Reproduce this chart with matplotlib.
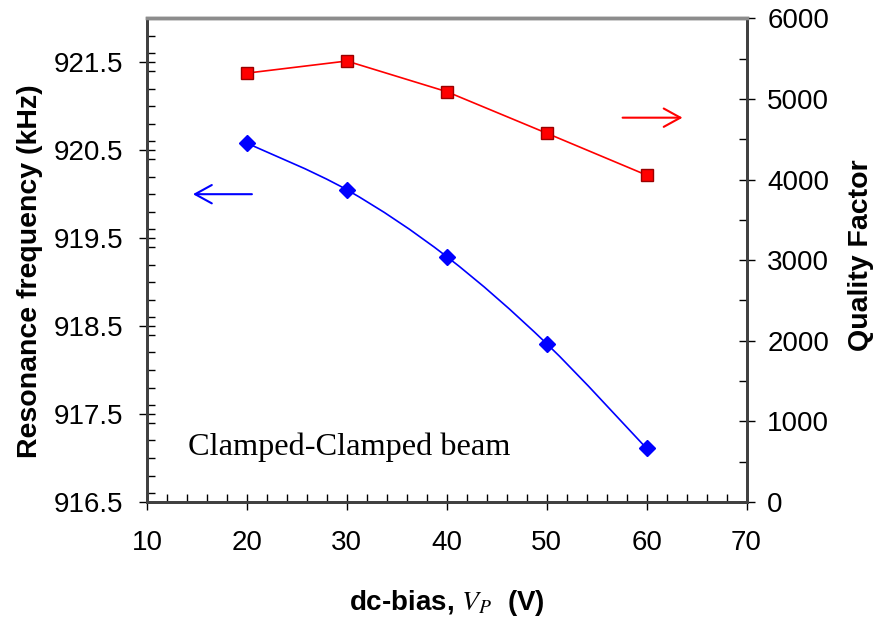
import numpy as np
import matplotlib
matplotlib.use("Agg")
import matplotlib.pyplot as plt
from matplotlib.ticker import MultipleLocator
from matplotlib.path import Path
from matplotlib.patches import PathPatch

plt.rcParams['font.family'] = 'Liberation Sans'
plt.rcParams['mathtext.fontset'] = 'stix'

# data
bias = [20, 30, 40, 50, 60]
freq = [920.58, 920.05, 919.29, 918.30, 917.11]   # kHz
qfac = [5320, 5470, 5090, 4575, 4055]


def smooth_path(xs, ys):
    """Excel-like smoothed line: cubic Bezier segments through the points."""
    pts = np.column_stack([xs, ys]).astype(float)
    n = len(pts)
    verts = [pts[0]]
    codes = [Path.MOVETO]
    for i in range(n - 1):
        p0 = pts[i - 1] if i > 0 else pts[i]
        p1, p2 = pts[i], pts[i + 1]
        p3 = pts[i + 2] if i + 2 < n else pts[i + 1]
        verts += [p1 + (p2 - p0) / 6, p2 - (p3 - p1) / 6, p2]
        codes += [Path.CURVE4] * 3
    return Path(verts, codes)


fig = plt.figure(figsize=(8.77, 6.23), dpi=100)
ax = fig.add_axes([147 / 877, 1 - 502 / 623, 599.5 / 877, 483.7 / 623])
ax2 = ax.twinx()

# frequency (left axis)
ax.add_patch(PathPatch(smooth_path(bias, freq), facecolor='none',
                       edgecolor='#0000ff', lw=1.2, zorder=3))
ax.plot(bias, freq, linestyle='none', marker='D', ms=8,
        color='#0000ff', zorder=4)

# quality factor (right axis)
ax2.plot(bias, qfac, color='#ff0000', lw=1.2, marker='s', ms=9,
         markerfacecolor='#ff0000', markeredgecolor='#990000', mew=1)

ax.set_xlim(10, 70)
ax.set_ylim(916.5, 922)
ax2.set_ylim(0, 6000)

ax.xaxis.set_major_locator(MultipleLocator(10))
ax.xaxis.set_minor_locator(MultipleLocator(2))
ax.yaxis.set_minor_locator(MultipleLocator(0.2))
ax.set_yticks([916.5, 917.5, 918.5, 919.5, 920.5, 921.5])
ax.set_yticklabels(['916.5', '917.5', '918.5', '919.5', '920.5', '921.5'])
ax2.yaxis.set_major_locator(MultipleLocator(1000))
ax2.yaxis.set_minor_locator(MultipleLocator(500))

for a in (ax, ax2):
    a.tick_params(which='major', direction='inout', length=12, width=1,
                  labelsize=20)
    a.tick_params(which='minor', direction='in', length=5.5, width=1)
ax.tick_params(axis='y', pad=11)
ax.tick_params(axis='x', pad=14)
ax2.tick_params(axis='y', pad=9)

for a in (ax, ax2):
    for side in ('left', 'right', 'bottom'):
        a.spines[side].set_color('#404040')
        a.spines[side].set_linewidth(2)
    a.spines['top'].set_color('#8c8c8c')
    a.spines['top'].set_linewidth(2.5)

ax.set_xlabel(r'dc-bias, $V_P$  (V)', fontsize=20, fontweight='bold',
              labelpad=23)
ax.set_ylabel('Resonance frequency (kHz)', fontsize=20.5, fontweight='bold')
ax.yaxis.set_label_coords(-0.1735, 0.478)
ax2.set_ylabel('Quality Factor', fontsize=20.5, fontweight='bold',
               rotation=90)
ax2.yaxis.set_label_coords(1.1693, 0.511)

# direction arrows
ax.annotate('', xy=(14.6, 920.0), xytext=(20.5, 920.0),
            arrowprops=dict(arrowstyle='->, head_length=0.6, head_width=0.33',
                            color='#0000ff', lw=1.5, mutation_scale=20,
                            shrinkA=0, shrinkB=0))
ax.annotate('', xy=(63.6, 920.87), xytext=(57.6, 920.87),
            arrowprops=dict(arrowstyle='->, head_length=0.6, head_width=0.33',
                            color='#ff0000', lw=1.5, mutation_scale=20,
                            shrinkA=0, shrinkB=0))

ax.text(14.1, 917.12, 'Clamped-Clamped beam', family='Liberation Serif',
        fontsize=23.3, va='center', ha='left')

fig.savefig('out.png', dpi=100)
